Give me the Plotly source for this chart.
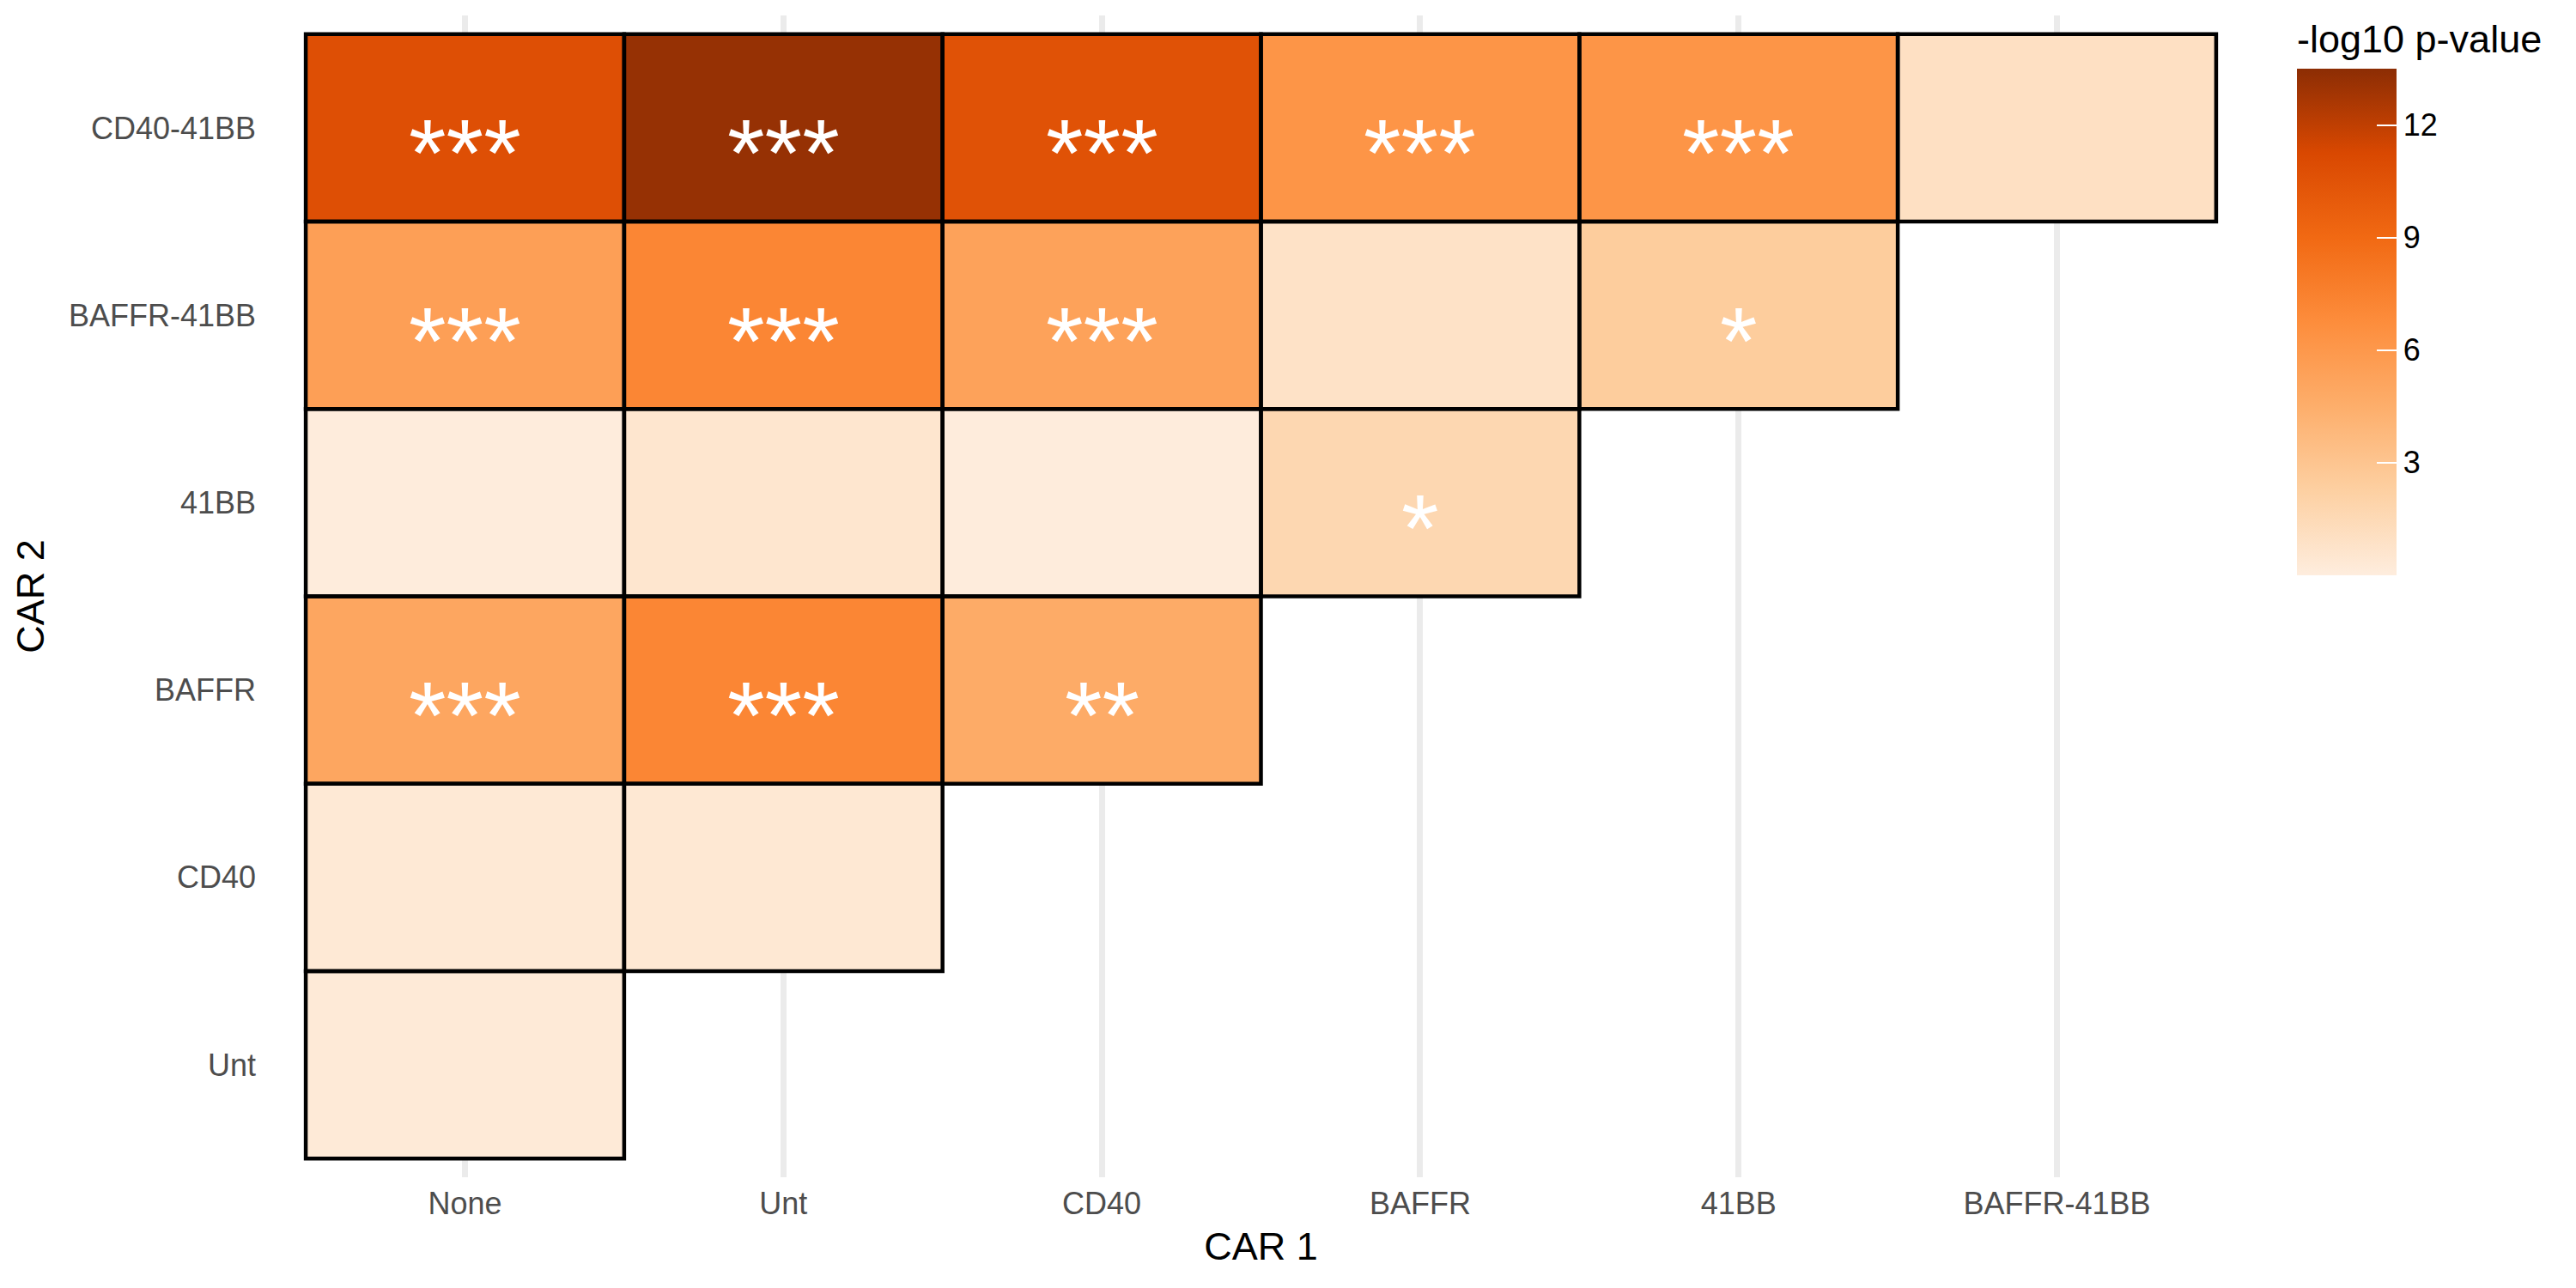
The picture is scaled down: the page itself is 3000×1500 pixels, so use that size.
import plotly.graph_objects as go

# ---- data ----
car1_labels = ["None", "Unt", "CD40", "BAFFR", "41BB", "BAFFR-41BB"]
car2_labels = ["Unt", "CD40", "BAFFR", "41BB", "BAFFR-41BB", "CD40-41BB"]  # bottom -> top

# -log10 p-values, one list per CAR 2 row (in CAR 1 order)
vals_unt = [0.25]
vals_cd40 = [0.33, 0.40]
vals_baffr = [5.05, 7.2, 4.7]
vals_41bb = [0.08, 0.55, 0.06, 1.7]
vals_baffr41bb = [5.5, 7.2, 5.3, 0.85, 2.45]
vals_cd4041bb = [10.8, 13.2, 10.6, 6.2, 6.2, 1.0]

# significance labels
sig_unt = [""]
sig_cd40 = ["", ""]
sig_baffr = ["***", "***", "**"]
sig_41bb = ["", "", "", "*"]
sig_baffr41bb = ["***", "***", "***", "", "*"]
sig_cd4041bb = ["***", "***", "***", "***", "***", ""]

colorbar_ticks = [3, 6, 9, 12]
z_limits = [0, 13.5]

rows_vals = [vals_unt, vals_cd40, vals_baffr, vals_41bb, vals_baffr41bb, vals_cd4041bb]
rows_sig = [sig_unt, sig_cd40, sig_baffr, sig_41bb, sig_baffr41bb, sig_cd4041bb]

n = len(car1_labels)
z = []
for rv in rows_vals:
    z.append(rv + [None] * (n - len(rv)))

oranges = ["#feedde", "#fdd0a2", "#fdae6b", "#fd8d3c", "#f16913", "#d94801", "#8c2d04"]
colorscale = [[i / (len(oranges) - 1), c] for i, c in enumerate(oranges)]

FONT = "Liberation Sans, Arial, Helvetica, sans-serif"

fig = go.Figure()
fig.add_trace(go.Heatmap(
    x=car1_labels, y=car2_labels, z=z,
    colorscale=colorscale, zmin=z_limits[0], zmax=z_limits[1],
    hoverongaps=False,
    colorbar=dict(
        title=dict(text="-log10 p-value", side="top", font=dict(size=45, family=FONT, color="black")),
        thickness=116, thicknessmode="pixels",
        len=646, lenmode="pixels",
        x=1.0248, xanchor="left", xpad=0,
        y=(1371 - 670) / 1353, yanchor="bottom", ypad=0,
        tickvals=colorbar_ticks, ticks="inside", ticklen=23,
        tickprefix="\u2002\u2009",
        tickcolor="white", tickwidth=2, outlinewidth=0,
        tickfont=dict(size=36, family=FONT, color="black"),
    ),
))

shapes = []
annotations = []
for i, (rv, rs) in enumerate(zip(rows_vals, rows_sig)):
    for j in range(len(rv)):
        shapes.append(dict(type="rect", xref="x", yref="y",
                           x0=j - 0.5, x1=j + 0.5, y0=i - 0.5, y1=i + 0.5,
                           line=dict(color="black", width=4.5),
                           fillcolor="rgba(0,0,0,0)", layer="above"))
        if rs[j]:
            annotations.append(dict(x=car1_labels[j], y=car2_labels[i], xref="x", yref="y",
                                    text=rs[j], showarrow=False, yshift=-30,
                                    font=dict(size=112, color="white", family=FONT)))

fig.update_layout(
    width=3000, height=1500,
    margin=dict(l=319, r=382, t=18, b=129),
    paper_bgcolor="white", plot_bgcolor="white",
    font=dict(family=FONT),
    shapes=shapes,
    annotations=annotations,
    xaxis=dict(type="category", categoryorder="array", categoryarray=car1_labels,
               range=[-0.6, n - 0.4], showgrid=True, gridcolor="#ebebeb", gridwidth=7,
               zeroline=False, showline=False, ticks="", ticklabelstandoff=6,
               tickfont=dict(size=36, color="#4d4d4d", family=FONT),
               title=dict(text="CAR 1", font=dict(size=45, color="black", family=FONT), standoff=14)),
    yaxis=dict(type="category", categoryorder="array", categoryarray=car2_labels,
               range=[-0.6, n - 0.4], showgrid=False, zeroline=False, showline=False, ticks="",
               ticklabelstandoff=20,
               tickfont=dict(size=36, color="#4d4d4d", family=FONT),
               title=dict(text="CAR 2", font=dict(size=45, color="black", family=FONT), standoff=14)),
)

fig.write_html("out.html")
